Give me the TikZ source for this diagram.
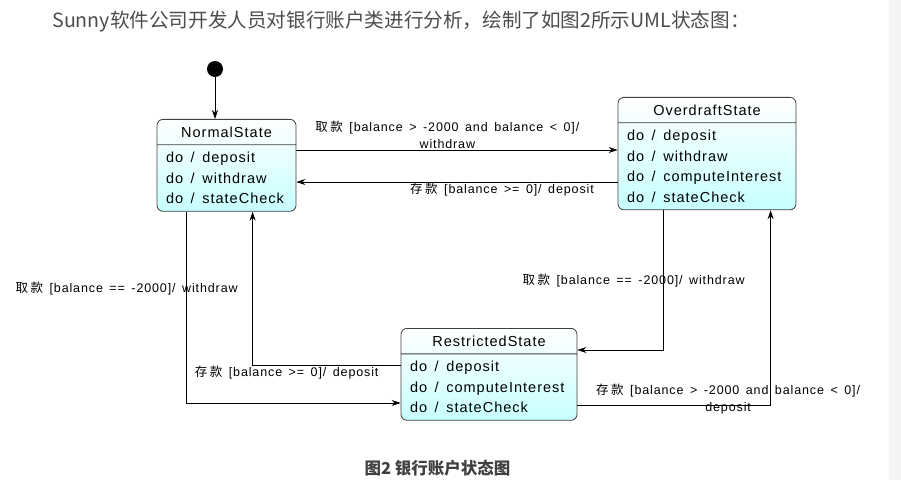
\documentclass[tikz,border=0pt]{standalone}
\usepackage{fontspec}
\setmainfont{Liberation Sans}[LetterSpace=7,WordSpace=1.5]
\newfontfamily\cjk{Noto Sans CJK SC}
\newfontfamily\cjkl{Noto Sans CJK SC}[LetterSpace=20]
\usetikzlibrary{positioning,arrows.meta,shapes.multipart}
\definecolor{stripgray}{HTML}{F3F4F6}

\begin{document}
\begin{tikzpicture}[x=1pt,y=-1pt,->,>={Stealth[length=9pt,width=6pt]},
   line width=0.8pt,
   state/.style={rectangle split,rectangle split parts=2,draw=black!75,
     rounded corners=6pt,anchor=north,align=left,
     rectangle split part align={center,left},inner xsep=9pt,inner ysep=7pt,
     top color=white,bottom color=cyan!22,
     font=\fontsize{14.5}{20.5}\selectfont},
   lab/.style={font=\fontsize{12.5}{17}\selectfont,align=center,inner sep=1pt}]
  \useasboundingbox (0,0) rectangle (901,489);
  \fill[stripgray] (889,0) rectangle (901,480);
  \node[anchor=west,inner sep=0pt,text=black!70,
    font=\cjk\fontsize{19.6}{22}\selectfont] (title) at (52,22)
    {Sunny软件公司开发人员对银行账户类进行分析，绘制了如图2所示UML状态图：};
  \node[circle,fill=black,minimum size=16pt,inner sep=0pt] (init) at (215,69) {};
  \node[state,minimum width=139pt] (Normal) at (226.5,119)
    {NormalState\nodepart{two}do / deposit\\do / withdraw\\do / stateCheck};
  \node[state,minimum width=178pt] (Over) at (707,97)
    {OverdraftState\nodepart{two}do / deposit\\do / withdraw\\do / computeInterest\\do / stateCheck};
  \node[state,minimum width=176pt] (Restr) at (489,328)
    {RestrictedState\nodepart{two}do / deposit\\do / computeInterest\\do / stateCheck};
  \node[font=\cjk\bfseries\fontsize{16.5}{18}\selectfont,text=black!75] (cap) at (437.5,468)
    {图2 银行账户状态图};
  % anchor points on the state borders
  \coordinate (o1) at ([yshift=-53pt]Over.north west);
  \coordinate (o2) at ([yshift=-85pt]Over.north west);
  \coordinate (n1) at ([xshift=30pt]Normal.south west);
  \coordinate (n2) at ([xshift=96pt]Normal.south west);
  \coordinate (r1) at ([yshift=-37pt]Restr.north west);
  \coordinate (r2) at ([yshift=-75pt]Restr.north west);
  \coordinate (r3) at ([yshift=-22pt]Restr.north east);
  \coordinate (r4) at ([yshift=-77pt]Restr.north east);
  \coordinate (o3) at ([xshift=46pt]Over.south west);
  \coordinate (o4) at ([xshift=153pt]Over.south west);
  \draw (init) -- (init |- Normal.north);
  \draw (Normal.east |- o1) -- node[lab,above,pos=.47]
    {{\cjkl 取款} [balance > -2000 and balance < 0]/\\withdraw} (o1);
  \draw (o2) -- node[lab,below,pos=.36]
    {{\cjkl 存款} [balance >= 0]/ deposit} (Normal.east |- o2);
  \draw (n1) |- node[lab,pos=.2,xshift=-60pt]
    {{\cjkl 取款} [balance == -2000]/ withdraw} (r2);
  \draw (r1) -| node[lab,below,pos=.385]
    {{\cjkl 存款} [balance >= 0]/ deposit} (n2);
  \draw (o3) |- node[lab,pos=.25,xshift=-30pt]
    {{\cjkl 取款} [balance == -2000]/ withdraw} (r3);
  \draw (r4) -| node[lab,pos=.39,yshift=6pt]
    {{\cjkl 存款} [balance > -2000 and balance < 0]/\\deposit} (o4);
\end{tikzpicture}
\end{document}
